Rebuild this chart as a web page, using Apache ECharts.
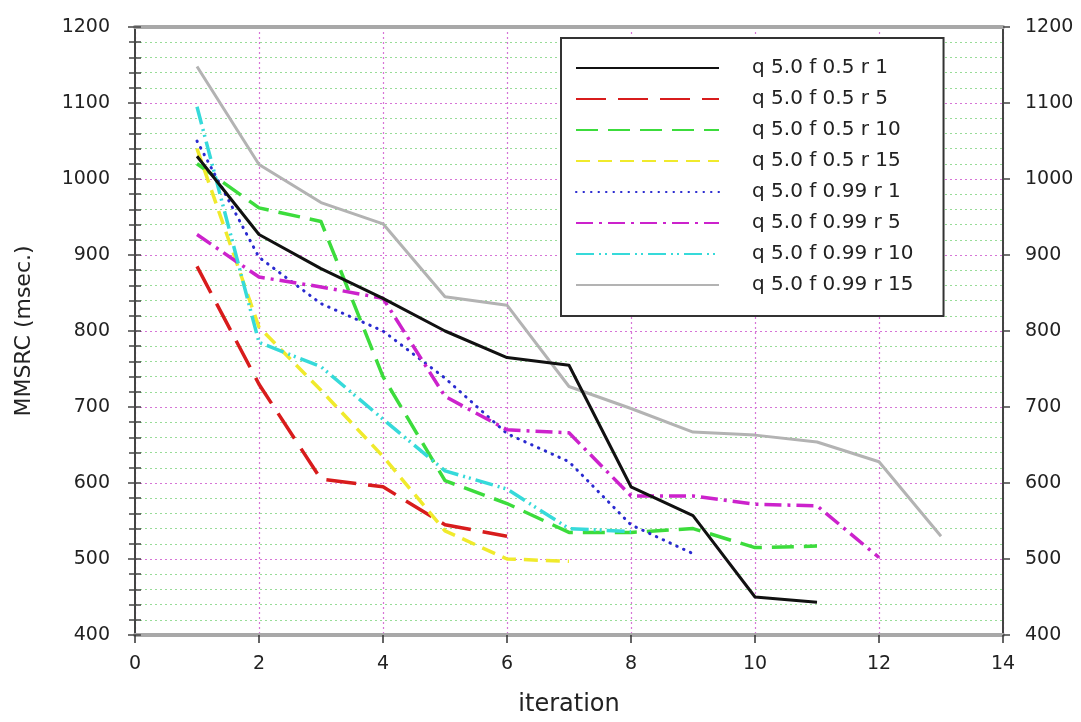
<!DOCTYPE html>
<html>
<head>
<meta charset="utf-8">
<title>MMSRC vs iteration</title>
<script src="https://cdn.jsdelivr.net/npm/echarts@6/dist/echarts.min.js"></script>
<style>
  html, body { margin: 0; padding: 0; background: #ffffff; }
  #chart { width: 1081px; height: 722px; }
</style>
</head>
<body>
<div id="chart"></div>
<script>
// Iteration numbers shared by every run
const iterations = [1, 2, 3, 4, 5, 6, 7, 8, 9, 10, 11, 12, 13];

// MMSRC (msec.) per iteration for each parameter set
const q5f05r1   = [1030, 927, 882, 843, 800, 765, 755, 595, 557, 450, 443];
const q5f05r5   = [885, 730, 605, 595, 545, 530];
const q5f05r10  = [1020, 962, 944, 740, 603, 573, 535, 535, 540, 515, 517];
const q5f05r15  = [1040, 805, 722, 635, 537, 500, 497];
const q5f099r1  = [1050, 897, 836, 800, 738, 665, 628, 545, 507];
const q5f099r5  = [927, 871, 858, 843, 714, 670, 666, 583, 583, 572, 570, 502];
const q5f099r10 = [1095, 785, 753, 684, 616, 592, 540, 536];
const q5f099r15 = [1148, 1019, 969, 941, 845, 834, 727, 698, 667, 663, 654, 628, 530];

const seriesNames = [
  'q 5.0 f 0.5 r 1', 'q 5.0 f 0.5 r 5', 'q 5.0 f 0.5 r 10', 'q 5.0 f 0.5 r 15',
  'q 5.0 f 0.99 r 1', 'q 5.0 f 0.99 r 5', 'q 5.0 f 0.99 r 10', 'q 5.0 f 0.99 r 15'
];
const seriesValues = [q5f05r1, q5f05r5, q5f05r10, q5f05r15, q5f099r1, q5f099r5, q5f099r10, q5f099r15];

// Axis ranges and tick spacing
const xRange = { min: 0, max: 14, step: 2 };
const yRange = { min: 400, max: 1200, step: 100, minorStep: 20 };

// Line look for each run
const lineLooks = [
  { color: '#111111', width: 3,   type: 'solid' },
  { color: '#d81c1c', width: 3.5, type: [30, 12] },
  { color: '#3cdc3c', width: 3.5, type: [22, 10] },
  { color: '#f0ea2c', width: 3.5, type: [14, 8] },
  { color: '#2a2ad0', width: 3,   type: [0.5, 7], cap: 'round' },
  { color: '#cc22cc', width: 3.5, type: [17, 6, 3, 6] },
  { color: '#36dada', width: 3.5, type: [18, 5, 2, 4, 2, 5] },
  { color: '#b3b3b3', width: 3,   type: 'solid' }
];

const FONT = 'DejaVu Sans';
const TEXT = '#222222';
const plainNumber = v => String(v);

const series = seriesNames.map((name, i) => ({
  name: name,
  type: 'line',
  xAxisIndex: 0,
  yAxisIndex: 0,
  symbol: 'none',
  showSymbol: false,
  animation: false,
  data: seriesValues[i].map((v, k) => [iterations[k], v]),
  lineStyle: Object.assign({ join: 'round' }, lineLooks[i]),
  itemStyle: { color: lineLooks[i].color },
  z: 3 + (i === 0 ? 8 : i)
}));

const gridLineMajor = { color: '#d774d7', type: [2, 3], width: 1.2 };
const gridLineMinor = { color: '#98dc98', type: [2, 3], width: 1 };

const chart = echarts.init(document.getElementById('chart'), null, { renderer: 'canvas' });

chart.setOption({
  backgroundColor: '#ffffff',
  animation: false,
  grid: { left: 135, right: 78, top: 27, bottom: 86, containLabel: false },
  legend: {
    orient: 'vertical',
    left: 561,
    top: 38,
    padding: [20, 30, 21, 14],
    itemWidth: 143,
    itemHeight: 14,
    itemGap: 11,
    backgroundColor: '#ffffff',
    borderColor: '#333333',
    borderWidth: 2,
    data: seriesNames,
    itemStyle: { opacity: 0 },
    textStyle: { fontFamily: FONT, fontSize: 20, color: TEXT, lineHeight: 20, padding: [0, 0, 0, 28] }
  },
  xAxis: [
    {
      type: 'value', position: 'bottom',
      min: xRange.min, max: xRange.max, interval: xRange.step,
      name: 'iteration', nameLocation: 'middle', nameGap: 58,
      nameTextStyle: { fontFamily: FONT, fontSize: 24, color: TEXT },
      axisLine: { show: true, onZero: false, lineStyle: { color: '#a8a8a8', width: 4 } },
      axisTick: { show: true, length: 8, lineStyle: { color: '#333333', width: 1.5 } },
      axisLabel: { fontFamily: FONT, fontSize: 19, color: TEXT, margin: 20, formatter: plainNumber },
      splitLine: { show: true, lineStyle: gridLineMajor }
    },
    {
      type: 'value', position: 'top',
      min: xRange.min, max: xRange.max, interval: xRange.step,
      axisLine: { show: true, onZero: false, lineStyle: { color: '#a8a8a8', width: 4 } },
      axisTick: { show: false },
      axisLabel: { show: false },
      splitLine: { show: false }
    }
  ],
  yAxis: [
    {
      // left axis: labels, outward major ticks, the full grid
      type: 'value', position: 'left',
      min: yRange.min, max: yRange.max, interval: yRange.step,
      name: 'MMSRC (msec.)', nameLocation: 'middle', nameGap: 100,
      nameTextStyle: { fontFamily: FONT, fontSize: 22, color: TEXT },
      axisLine: { show: true, onZero: false, lineStyle: { color: '#444444', width: 2 } },
      axisTick: { show: true, inside: false, length: 7, lineStyle: { color: '#444444', width: 1.5 } },
      axisLabel: { fontFamily: FONT, fontSize: 19, color: TEXT, margin: 25, formatter: plainNumber },
      splitLine: { show: true, lineStyle: gridLineMajor },
      minorTick: { show: false, splitNumber: 5 },
      minorSplitLine: { show: true, lineStyle: gridLineMinor }
    },
    {
      // left axis: inward minor ticks
      type: 'value', position: 'left',
      min: yRange.min, max: yRange.max, interval: yRange.minorStep,
      axisLine: { show: false },
      axisTick: { show: true, inside: true, length: 6, lineStyle: { color: '#444444', width: 1.5 } },
      axisLabel: { show: false },
      splitLine: { show: false }
    },
    {
      // right axis: labels and outward major ticks
      type: 'value', position: 'right',
      min: yRange.min, max: yRange.max, interval: yRange.step,
      axisLine: { show: true, onZero: false, lineStyle: { color: '#444444', width: 2 } },
      axisTick: { show: true, inside: false, length: 7, lineStyle: { color: '#444444', width: 1.5 } },
      axisLabel: { fontFamily: FONT, fontSize: 19, color: TEXT, margin: 22, formatter: plainNumber },
      splitLine: { show: false }
    },
    {
      // right axis: inward minor ticks
      type: 'value', position: 'right',
      min: yRange.min, max: yRange.max, interval: yRange.minorStep,
      axisLine: { show: false },
      axisTick: { show: true, inside: true, length: 6, lineStyle: { color: '#444444', width: 1.5 } },
      axisLabel: { show: false },
      splitLine: { show: false }
    }
  ],
  series: series
});
</script>
</body>
</html>
